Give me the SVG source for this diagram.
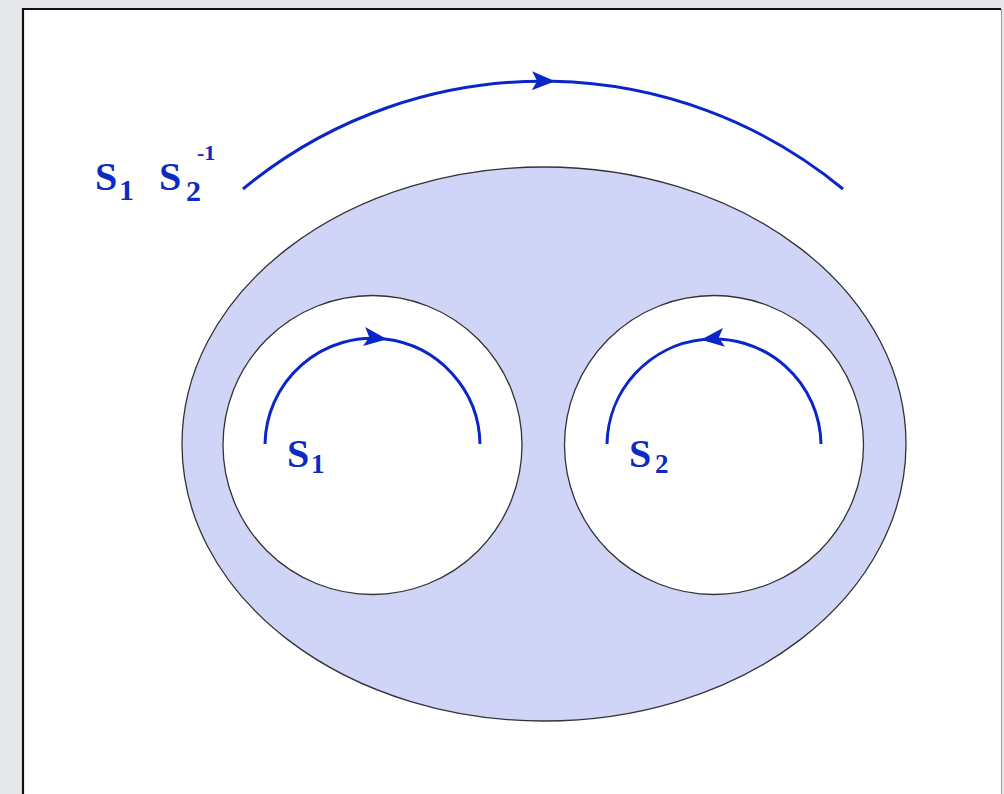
<svg xmlns="http://www.w3.org/2000/svg" width="1004" height="794" viewBox="0 0 1004 794">
<defs>
<style>
.shape{stroke:#333;stroke-width:1.3}
.arc{fill:none;stroke:#0a26c8;stroke-width:3}
text{font-family:'Liberation Serif','Times New Roman',Times,serif;font-weight:bold;fill:#0b2bc4}
</style>
<marker id="ah" viewBox="0 0 22 18" refX="20" refY="9" markerWidth="24" markerHeight="19" markerUnits="userSpaceOnUse" orient="auto">
<path d="M0,0 L22,9 L0,18 L5,9 Z" fill="#0a26c8"/>
</marker>
</defs>
<rect x="0" y="0" width="1004" height="794" fill="#e7e8eb"/>
<rect x="23" y="9" width="978" height="800" fill="#ffffff"/>
<path d="M23,794 L23,9 L1001,9" fill="none" stroke="#111" stroke-width="2.2"/>
<line x1="1001.5" y1="9" x2="1001.5" y2="794" stroke="#999" stroke-width="1"/>
<g id="outer"><ellipse cx="544" cy="444" rx="362" ry="277" fill="#d0d5f7" class="shape"/></g>
<g id="hole1"><circle cx="372.5" cy="445" r="149.5" fill="#ffffff" class="shape"/></g>
<g id="hole2"><circle cx="714" cy="445" r="149.5" fill="#ffffff" class="shape"/></g>
<g id="connectors">
<path class="arc" d="M243,189 A470.7,470.7 0 0 1 553,81.3" marker-end="url(#ah)"/>
<path class="arc" d="M553,81.3 A470.7,470.7 0 0 1 843,189"/>
<path class="arc" d="M265,444 A107.5,107.5 0 0 1 385,339" marker-end="url(#ah)"/>
<path class="arc" d="M385,339 A107.5,107.5 0 0 1 480,444"/>
<path class="arc" d="M821,444 A107,107 0 0 0 703,339.5" marker-end="url(#ah)"/>
<path class="arc" d="M703,339.5 A107,107 0 0 0 607,444"/>
</g>
<g id="label-top">
<text x="95" y="190" font-size="40">S</text>
<text x="119" y="200" font-size="30">1</text>
<text x="159" y="190" font-size="40">S</text>
<text x="186" y="201" font-size="30">2</text>
<text x="197" y="160" font-size="22">-1</text>
</g>
<g id="label-s1">
<text x="287" y="467" font-size="40">S</text>
<text x="311" y="473" font-size="27">1</text>
</g>
<g id="label-s2">
<text x="629" y="467" font-size="40">S</text>
<text x="655" y="473" font-size="27">2</text>
</g>
</svg>
